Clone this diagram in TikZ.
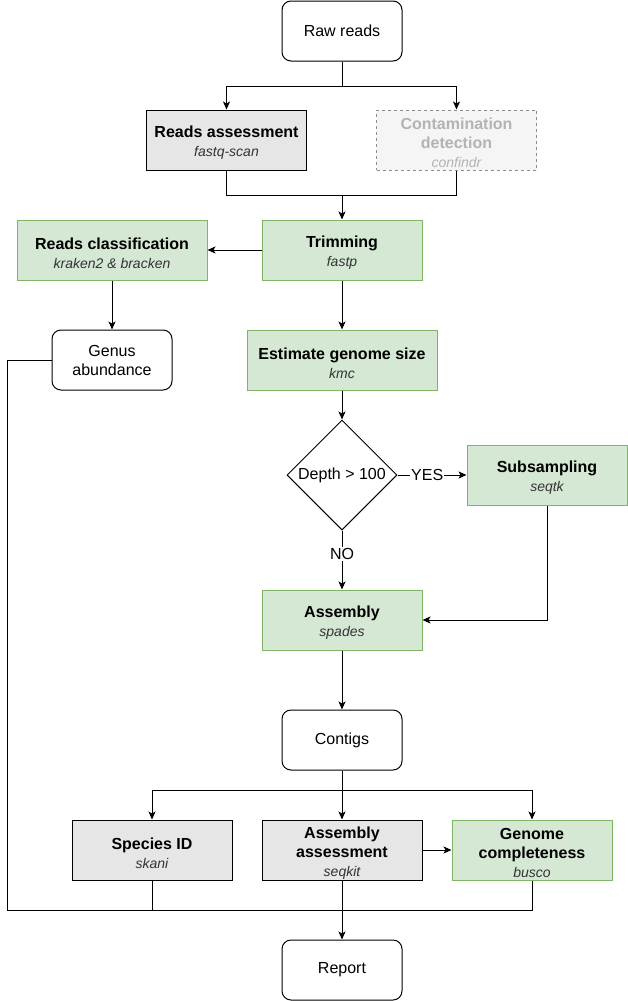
\documentclass[tikz,border=0pt]{standalone}
\usepackage{fontspec}
\setmainfont{Liberation Sans}
\usetikzlibrary{shapes.geometric,arrows.meta}
\definecolor{gfill}{HTML}{E6E6E6}
\definecolor{grfill}{HTML}{D5E8D4}
\definecolor{grline}{HTML}{82B366}
\definecolor{cdfill}{HTML}{F5F5F5}
\definecolor{cdline}{HTML}{8C8C8C}
\definecolor{cdtext}{HTML}{B3B3B3}
\definecolor{subtext}{HTML}{333333}
\newcommand{\sub}[1]{{\fontsize{14}{19}\selectfont\mdseries\itshape\color{subtext}#1}}
\newcommand{\subcd}[1]{{\fontsize{14}{19}\selectfont\mdseries\itshape #1}}
\newcommand{\tstr}{\rule{0pt}{17.5pt}}
\tikzset{
  base/.style={draw, line width=1pt, inner sep=0pt, align=center, font=\fontsize{16}{19}\selectfont},
  term/.style={base, rounded corners=9pt, minimum width=120pt, minimum height=60pt, fill=white},
  graybox/.style={base, fill=gfill, minimum width=160pt, minimum height=60pt, font=\fontsize{16}{19}\selectfont\bfseries},
  greenbox/.style={base, draw=grline, fill=grfill, minimum width=160pt, minimum height=60pt, font=\fontsize{16}{19}\selectfont\bfseries},
  cdbox/.style={base, draw=cdline, dashed, fill=cdfill, text=cdtext, minimum width=160pt, minimum height=60pt, font=\fontsize{16}{19}\selectfont\bfseries},
  decision/.style={base, diamond, aspect=1, minimum width=110pt, minimum height=110pt, fill=white},
  lbl/.style={fill=white, inner sep=1pt, font=\fontsize{16}{19}\selectfont},
  arr/.style={line width=1pt, -{Stealth[length=8pt,width=7pt,inset=2pt]}},
  ln/.style={line width=1pt}
}
\begin{document}
\begin{tikzpicture}[x=1pt,y=-1pt]
\useasboundingbox (0,0) rectangle (628,1001);
\node[term] (raw) at (342,31) {Raw reads};
\node[graybox] (ra) at (226.5,140) {\tstr Reads assessment\\\sub{fastq-scan}};
\node[cdbox] (cd) at (456.5,140) {\tstr Contamination\\detection\\\subcd{confindr}};
\node[greenbox] (trim) at (342,250) {\tstr Trimming\\\sub{fastp}};
\node[greenbox, minimum width=190pt] (rc) at (112,250) {\tstr Reads classification\\\sub{kraken2 \& bracken}};
\node[term] (genus) at (112,360) {Genus\\abundance};
\node[greenbox, minimum width=190pt] (egs) at (342,360) {\tstr Estimate genome size\\\sub{kmc}};
\node[decision] (dia) at (342,475) {Depth \textgreater{} 100};
\node[greenbox] (subs) at (547,475) {\tstr Subsampling\\\sub{seqtk}};
\node[greenbox] (asm) at (342,620) {\tstr Assembly\\\sub{spades}};
\node[term] (contigs) at (342,740) {Contigs};
\node[graybox] (sp) at (152,850) {\tstr Species ID\\\sub{skani}};
\node[graybox] (aa) at (342,850) {\tstr Assembly\\assessment\\\sub{seqkit}};
\node[greenbox] (gc) at (532,850) {\tstr Genome\\completeness\\\sub{busco}};
\node[term] (report) at (342,970) {Report};

\coordinate (j1) at (342,86);
\coordinate (j2) at (342,195);
\coordinate (j3) at (342,790);
\coordinate (lt) at (7,360);
\coordinate (lb) at (7,910);

\draw[ln] (raw.south) -- (j1);
\draw[arr] (j1) -| (ra.north);
\draw[arr] (j1) -| (cd.north);
\draw[ln] (ra.south) |- (j2);
\draw[ln] (cd.south) |- (j2);
\draw[arr] (j2) -- (trim.north);
\draw[arr] (trim.west) -- (rc.east);
\draw[arr] (rc.south) -- (genus.north);
\draw[arr] (trim.south) -- (egs.north);
\draw[arr] (egs.south) -- (dia.north);
\draw[arr] (dia.east) -- node[lbl, pos=0.43] {YES} (subs.west);
\draw[arr] (dia.south) -- node[lbl, pos=0.4] {NO} (asm.north);
\draw[arr] (subs.south) |- (asm.east);
\draw[arr] (asm.south) -- (contigs.north);
\draw[ln] (contigs.south) -- (j3);
\draw[arr] (j3) -| (sp.north);
\draw[arr] (j3) -| (gc.north);
\draw[arr] (j3) -- (aa.north);
\draw[arr] (aa.east) -- (gc.west);
\draw[ln] (genus.west) -- (lt) -- (lb) -| (gc.south);
\draw[ln] (sp.south) -- (sp.south |- lb);
\draw[arr] (aa.south) -- (report.north);
\end{tikzpicture}
\end{document}
